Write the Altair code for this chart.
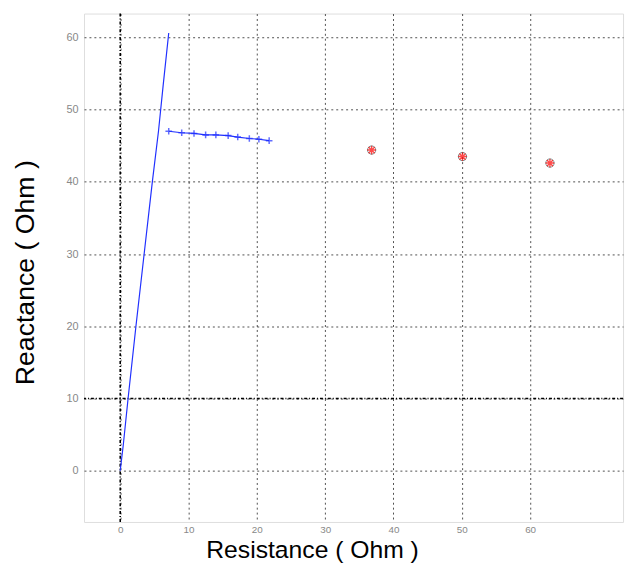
import altair as alt
import pandas as pd

# steep blue line
steep_x = [0.0, 0.45, 1.15, 2.3, 3.5, 4.7, 5.6, 6.3, 7.1]
steep_y = [0.0, 3.6, 10.0, 20.0, 30.0, 40.0, 47.0, 53.5, 60.6]

# horizontal blue series with '+' markers
hor_x = [7.1, 9.0, 10.8, 12.5, 14.0, 15.8, 17.2, 18.9, 20.3, 21.8]
hor_y = [47.0, 46.8, 46.7, 46.5, 46.5, 46.4, 46.2, 46.0, 45.9, 45.7]

# red points
red_x = [36.8, 50.1, 62.9]
red_y = [44.4, 43.5, 42.6]

tick_vals = [0, 10, 20, 30, 40, 50, 60]
x_dom = [-5.3, 73.6]
y_dom = [-7.1, 63.3]

steep = pd.DataFrame({"x": steep_x, "y": steep_y, "o": range(len(steep_x))})
hor = pd.DataFrame({"x": hor_x, "y": hor_y, "o": range(len(hor_x))})
red = pd.DataFrame({"x": red_x, "y": red_y})

xs = alt.Scale(domain=x_dom, nice=False, zero=False)
ys = alt.Scale(domain=y_dom, nice=False, zero=False)

x_axis = alt.Axis(values=tick_vals, grid=True, gridDash=[2, 3], gridColor="#222222",
                  gridOpacity=0.8, ticks=False, domain=False, labelFontSize=10,
                  labelColor="#888888", labelPadding=3, labelFont="Liberation Sans",
                  title="Resistance ( Ohm )", titleFontSize=25, titleFontWeight="normal",
                  titleFont="Liberation Sans", titleColor="#000000",
                  titleBaseline="top", titleY=16, titleX=231)
y_axis = alt.Axis(values=tick_vals, grid=True, gridDash=[2, 3], gridColor="#222222",
                  gridOpacity=0.8, ticks=False, domain=False, labelFontSize=11,
                  labelColor="#888888", labelPadding=6, labelFont="Liberation Sans",
                  title="Reactance  ( Ohm )", titleFontSize=27, titleFontWeight="normal",
                  titleFont="Liberation Sans", titleColor="#000000",
                  titleBaseline="middle", titleAngle=-90, titleX=-59, titleY=262,
                  titleAlign="center")

base_grid = alt.Chart(steep).mark_point(opacity=0).encode(
    x=alt.X("x:Q", scale=xs, axis=x_axis),
    y=alt.Y("y:Q", scale=ys, axis=y_axis),
)

vrule = alt.Chart(pd.DataFrame({"x": [0]})).mark_rule(
    color="#000000", strokeDash=[3, 2, 1, 2], strokeWidth=1.6
).encode(x=alt.X("x:Q", scale=xs))
hrule = alt.Chart(pd.DataFrame({"y": [10]})).mark_rule(
    color="#000000", strokeDash=[3, 2, 1, 2], strokeWidth=1.6
).encode(y=alt.Y("y:Q", scale=ys))

steep_line = alt.Chart(steep).mark_line(color="#2030ff", strokeWidth=1.2).encode(
    x=alt.X("x:Q", scale=xs), y=alt.Y("y:Q", scale=ys), order="o:Q")

hor_line = alt.Chart(hor).mark_line(color="#2030ff", strokeWidth=1.2).encode(
    x=alt.X("x:Q", scale=xs), y=alt.Y("y:Q", scale=ys), order="o:Q")
hor_pts = alt.Chart(hor).mark_point(
    shape="M-1,0L1,0M0,-1L0,1", filled=False, color="#2030ff", size=45, strokeWidth=1.5
).encode(x=alt.X("x:Q", scale=xs), y=alt.Y("y:Q", scale=ys))

red_o = alt.Chart(red).mark_point(
    shape="circle", filled=False, color="#336666", size=70, strokeWidth=1
).encode(x=alt.X("x:Q", scale=xs), y=alt.Y("y:Q", scale=ys))
red_star = alt.Chart(red).mark_point(
    shape="M-1,0L1,0M0,-1L0,1M-0.7,-0.7L0.7,0.7M-0.7,0.7L0.7,-0.7",
    filled=False, color="#ff0000", size=80, strokeWidth=1.4
).encode(x=alt.X("x:Q", scale=xs), y=alt.Y("y:Q", scale=ys))

chart = alt.layer(base_grid, vrule, hrule, steep_line, hor_line, hor_pts, red_o, red_star).properties(
    width=546, height=515,
    autosize=alt.AutoSizeParams(type="none"),
    padding={"left": 77, "top": 2, "right": 3, "bottom": 44},
).configure_view(stroke="#888888", strokeWidth=2).configure(background="white")

chart.save("out.html", embed_options={"renderer": "svg", "actions": False})
